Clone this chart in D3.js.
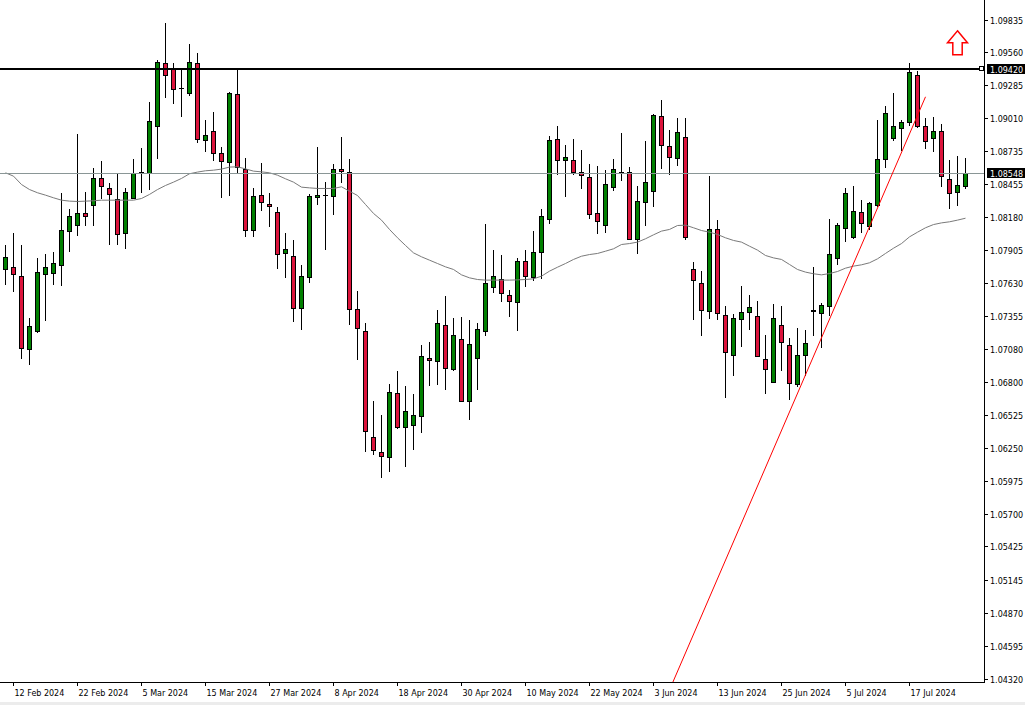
<!DOCTYPE html>
<html><head><meta charset="utf-8">
<script src="https://cdn.jsdelivr.net/npm/d3@7"></script>
<style>html,body{margin:0;padding:0;background:#fff;}svg{display:block;}</style>
</head><body>
<svg id="chart" width="1025" height="705"></svg>
<script>
// ---------------- DATA ----------------
const dates = [
"2024-02-09","2024-02-12","2024-02-13","2024-02-14","2024-02-15","2024-02-16","2024-02-19","2024-02-20","2024-02-21","2024-02-22",
"2024-02-23","2024-02-26","2024-02-27","2024-02-28","2024-02-29","2024-03-01","2024-03-04","2024-03-05","2024-03-06","2024-03-07",
"2024-03-08","2024-03-11","2024-03-12","2024-03-13","2024-03-14","2024-03-15","2024-03-18","2024-03-19","2024-03-20","2024-03-21",
"2024-03-22","2024-03-25","2024-03-26","2024-03-27","2024-03-28","2024-03-29","2024-04-01","2024-04-02","2024-04-03","2024-04-04",
"2024-04-05","2024-04-08","2024-04-09","2024-04-10","2024-04-11","2024-04-12","2024-04-15","2024-04-16","2024-04-17","2024-04-18",
"2024-04-19","2024-04-22","2024-04-23","2024-04-24","2024-04-25","2024-04-26","2024-04-29","2024-04-30","2024-05-01","2024-05-02",
"2024-05-03","2024-05-06","2024-05-07","2024-05-08","2024-05-09","2024-05-10","2024-05-13","2024-05-14","2024-05-15","2024-05-16",
"2024-05-17","2024-05-20","2024-05-21","2024-05-22","2024-05-23","2024-05-24","2024-05-27","2024-05-28","2024-05-29","2024-05-30",
"2024-05-31","2024-06-03","2024-06-04","2024-06-05","2024-06-06","2024-06-07","2024-06-10","2024-06-11","2024-06-12","2024-06-13",
"2024-06-14","2024-06-17","2024-06-18","2024-06-19","2024-06-20","2024-06-21","2024-06-24","2024-06-25","2024-06-26","2024-06-27",
"2024-06-28","2024-07-01","2024-07-02","2024-07-03","2024-07-04","2024-07-05","2024-07-08","2024-07-09","2024-07-10","2024-07-11",
"2024-07-12","2024-07-15","2024-07-16","2024-07-17","2024-07-18","2024-07-19","2024-07-22","2024-07-23","2024-07-24","2024-07-25",
"2024-07-26"];

const open = [
1.07748,1.07760,1.07690,1.07076,1.07227,1.07704,1.07715,1.07779,1.08066,1.08114,
1.08217,1.08281,1.08510,1.08426,1.08334,1.08050,1.08343,1.08552,1.08552,1.08943,
1.09473,1.09417,1.09262,1.09222,1.09473,1.08828,1.08903,1.08719,1.08644,1.09213,
1.08580,1.08075,1.08368,1.08292,1.08226,1.07882,1.07857,1.07422,1.07681,1.08351,
1.08366,1.08359,1.08585,1.08560,1.07414,1.07229,1.06345,1.06217,1.06175,1.06711,
1.06426,1.06443,1.06518,1.07003,1.06978,1.07280,1.06911,1.07163,1.06644,1.07003,
1.07229,1.07598,1.07665,1.07531,1.07472,1.07815,1.07681,1.07891,1.08167,1.08837,
1.08661,1.08661,1.08560,1.08518,1.08217,1.08117,1.08435,1.08562,1.08560,1.07997,
1.08309,1.08401,1.09029,1.08778,1.08677,1.08853,1.07748,1.07631,1.07397,1.08083,
1.07363,1.07029,1.07330,1.07389,1.07355,1.06995,1.06803,1.07280,1.07112,1.06786,
1.07029,1.07394,1.07380,1.07439,1.07840,1.08092,1.08013,1.08226,1.08108,1.08284,
1.08669,1.08845,1.08929,1.08979,1.09372,1.08945,1.08845,1.08903,1.08502,1.08393,
1.08443];

const high = [
1.07952,1.08050,1.07952,1.07338,1.07843,1.07874,1.07891,1.08387,1.08245,1.08878,
1.08393,1.08594,1.08655,1.08468,1.08552,1.08426,1.08664,1.08756,1.09146,1.09492,
1.09807,1.09473,1.09417,1.09634,1.09551,1.08998,1.09065,1.08764,1.09225,1.09422,
1.08677,1.08421,1.08636,1.08385,1.08267,1.08050,1.07986,1.07782,1.08371,1.08764,
1.08477,1.08622,1.08850,1.08664,1.07567,1.07291,1.06646,1.06529,1.06786,1.06897,
1.06772,1.06705,1.07107,1.07140,1.07400,1.07525,1.07333,1.07347,1.07322,1.07299,
1.08125,1.07902,1.07866,1.07575,1.07840,1.07902,1.08069,1.08251,1.08864,1.08945,
1.08781,1.08839,1.08747,1.08627,1.08608,1.08577,1.08669,1.08887,1.08602,1.08443,
1.08820,1.09040,1.09160,1.08912,1.09012,1.09012,1.07807,1.07732,1.08524,1.08161,
1.07439,1.07372,1.07606,1.07531,1.07481,1.07196,1.07455,1.07439,1.07171,1.07255,
1.07238,1.07760,1.07464,1.08167,1.08133,1.08426,1.08443,1.08326,1.08304,1.08996,
1.09113,1.09222,1.08998,1.09473,1.09406,1.09012,1.09021,1.08962,1.08661,1.08694,
1.08677];

const low = [
1.07609,1.07553,1.06990,1.06942,1.07213,1.07310,1.07609,1.07603,1.07888,1.08022,
1.08111,1.08111,1.08329,1.07952,1.07944,1.07916,1.08334,1.08387,1.08412,1.08664,
1.09174,1.09132,1.09018,1.09194,1.08803,1.08725,1.08650,1.08340,1.08357,1.08552,
1.08013,1.08013,1.08231,1.08097,1.07748,1.07673,1.07302,1.07235,1.07631,1.08281,
1.07905,1.08198,1.08465,1.07277,1.06984,1.06214,1.06189,1.05999,1.06050,1.06409,
1.06091,1.06231,1.06373,1.06766,1.06778,1.06733,1.06892,1.06640,1.06482,1.06733,
1.07185,1.07545,1.07469,1.07344,1.07227,1.07598,1.07648,1.07665,1.08125,1.08532,
1.08348,1.08532,1.08415,1.08164,1.08039,1.08050,1.08398,1.08482,1.07988,1.07874,
1.08106,1.08265,1.08583,1.08532,1.08608,1.07988,1.07319,1.07185,1.07327,1.07319,
1.06666,1.06850,1.07093,1.07235,1.07012,1.06699,1.06800,1.06892,1.06649,1.06761,
1.06850,1.07185,1.07084,1.07355,1.07782,1.07974,1.08000,1.08050,1.08075,1.08267,
1.08591,1.08820,1.08736,1.08945,1.08929,1.08753,1.08728,1.08435,1.08251,1.08276,
1.08415];

const close = [
1.07849,1.07704,1.07087,1.07271,1.07723,1.07765,1.07799,1.08075,1.08192,1.08217,
1.08189,1.08510,1.08440,1.08376,1.08039,1.08393,1.08552,1.08556,1.08987,1.09481,
1.09369,1.09255,1.09259,1.09481,1.08837,1.08870,1.08719,1.08650,1.09222,1.08602,
1.08075,1.08359,1.08309,1.08276,1.07874,1.07916,1.07422,1.07690,1.08359,1.08368,
1.08368,1.08585,1.08566,1.07414,1.07255,1.06390,1.06233,1.06183,1.06719,1.06426,
1.06560,1.06526,1.07020,1.06987,1.07296,1.06920,1.07196,1.06644,1.07121,1.07246,
1.07631,1.07690,1.07548,1.07481,1.07815,1.07690,1.07891,1.08192,1.08828,1.08661,
1.08686,1.08560,1.08535,1.08209,1.08150,1.08460,1.08585,1.08558,1.07997,1.08318,
1.08477,1.09037,1.08786,1.08686,1.08895,1.08013,1.07656,1.07405,1.08083,1.07380,
1.07054,1.07338,1.07389,1.07430,1.07020,1.06911,1.07338,1.07137,1.06794,1.07029,
1.07129,1.07400,1.07447,1.07874,1.08117,1.08385,1.08234,1.08133,1.08301,1.08669,
1.09054,1.08945,1.08979,1.09397,1.08945,1.08820,1.08903,1.08527,1.08385,1.08452,
1.08548];

const movingAverage = [
1.08552,1.08524,1.08454,1.08412,1.08385,1.08365,1.08343,1.08323,1.08315,1.08312,
1.08315,1.08318,1.08323,1.08323,1.08323,1.08323,1.08323,1.08337,1.08371,1.08412,
1.08446,1.08474,1.08505,1.08544,1.08558,1.08569,1.08574,1.08583,1.08600,1.08602,
1.08585,1.08566,1.08560,1.08552,1.08532,1.08502,1.08474,1.08432,1.08426,1.08421,
1.08421,1.08421,1.08435,1.08398,1.08362,1.08287,1.08212,1.08156,1.08078,1.08008,
1.07944,1.07882,1.07849,1.07821,1.07793,1.07765,1.07743,1.07698,1.07673,1.07659,
1.07654,1.07654,1.07654,1.07654,1.07656,1.07659,1.07665,1.07687,1.07729,1.07762,
1.07793,1.07827,1.07854,1.07868,1.07877,1.07896,1.07916,1.07952,1.07960,1.07972,
1.08000,1.08033,1.08064,1.08078,1.08111,1.08114,1.08092,1.08069,1.08055,1.08036,
1.08008,1.07986,1.07972,1.07938,1.07905,1.07860,1.07840,1.07827,1.07785,1.07743,
1.07721,1.07707,1.07698,1.07709,1.07726,1.07754,1.07771,1.07782,1.07799,1.07832,
1.07877,1.07921,1.07960,1.08016,1.08055,1.08092,1.08119,1.08133,1.08142,1.08156,
1.08172];

const priceTicks = [1.09835,1.09560,1.09285,1.09010,1.08735,1.08455,1.08180,1.07905,1.07630,1.07355,
1.07080,1.06800,1.06525,1.06250,1.05975,1.05700,1.05425,1.05145,1.04870,1.04595,1.04320];

const dateTicks = ["2024-02-12","2024-02-22","2024-03-05","2024-03-15","2024-03-27","2024-04-08",
"2024-04-18","2024-04-30","2024-05-10","2024-05-22","2024-06-03","2024-06-13","2024-06-25",
"2024-07-05","2024-07-17"];

const resistanceLevel = 1.09420;
const lastPrice = 1.08548;
const trendDates = ["2024-06-05","2024-07-19"];
const trendPrices = [1.04224, 1.09188];
const arrowDate = "2024-07-25";
const arrowPrice = 1.09740;

// ---------------- CHART ----------------
const W = 1025, H = 705;
const plotRight = 984, plotBottom = 682;
const svg = d3.select("#chart");
const FONT = "'DejaVu Sans', Tahoma, sans-serif";

const idx = new Map(dates.map((d, i) => [d, i]));
const x = d3.scaleLinear().domain([0, dates.length - 1]).range([5.5, 965.5]);
const y = d3.scaleLinear().domain([1.04320, 1.09835]).range([678.5, 19.5]);
const xd = d => x(idx.get(d));
const parse = d3.timeParse("%Y-%m-%d");
const fmtDate = d3.timeFormat("%-d %b %Y");
const fmtPrice = d3.format(".5f");

svg.append("rect").attr("width", W).attr("height", H).attr("fill", "#fff");

svg.append("defs").append("clipPath").attr("id", "plotClip")
  .append("rect").attr("x", 0).attr("y", 0).attr("width", plotRight).attr("height", plotBottom);

const plot = svg.append("g").attr("clip-path", "url(#plotClip)");

const candles = dates.map((d, i) => ({i, o: open[i], h: high[i], l: low[i], c: close[i]}));

// wicks
plot.append("g").selectAll("line").data(candles).join("line")
  .attr("x1", d => x(d.i)).attr("x2", d => x(d.i))
  .attr("y1", d => Math.round(y(d.h))).attr("y2", d => Math.round(y(d.l)))
  .attr("stroke", "#000").attr("stroke-width", 1);

// bodies
const bodyG = plot.append("g");
candles.forEach(d => {
  const yt = Math.round(y(Math.max(d.o, d.c))) + 0.5;
  const yb = Math.round(y(Math.min(d.o, d.c))) + 0.5;
  if (yb - yt < 1) {
    bodyG.append("line").attr("x1", x(d.i) - 2.5).attr("x2", x(d.i) + 2.5)
      .attr("y1", yt).attr("y2", yt).attr("stroke", "#000").attr("stroke-width", 1);
  } else {
    bodyG.append("rect").attr("x", x(d.i) - 2).attr("width", 4)
      .attr("y", yt).attr("height", yb - yt)
      .attr("fill", d.c >= d.o ? "#008000" : "#dc143c")
      .attr("stroke", "#000").attr("stroke-width", 1);
  }
});

// moving average
plot.append("path").datum(movingAverage)
  .attr("d", d3.line().x((v, i) => x(i)).y(v => y(v)))
  .attr("fill", "none").attr("stroke", "#7a7a7a").attr("stroke-width", 1);

// last price line
plot.append("line").attr("x1", 0).attr("x2", plotRight)
  .attr("y1", Math.round(y(lastPrice)) + 0.5).attr("y2", Math.round(y(lastPrice)) + 0.5)
  .attr("stroke", "#8a9696").attr("stroke-width", 1);

// resistance line
const ry = Math.round(y(resistanceLevel));
plot.append("line").attr("x1", 0).attr("x2", plotRight)
  .attr("y1", ry).attr("y2", ry)
  .attr("stroke", "#000").attr("stroke-width", 2);

// trend line
plot.append("line")
  .attr("x1", xd(trendDates[0])).attr("y1", y(trendPrices[0]))
  .attr("x2", xd(trendDates[1])).attr("y2", y(trendPrices[1]))
  .attr("stroke", "#ff0000").attr("stroke-width", 1);

// arrow
const ax = xd(arrowDate), ay = y(arrowPrice);
svg.append("path")
  .attr("d", `M${ax},${ay} L${ax + 10},${ay + 12} L${ax + 4.7},${ay + 12} L${ax + 4.7},${ay + 24} L${ax - 4.7},${ay + 24} L${ax - 4.7},${ay + 12} L${ax - 10},${ay + 12} Z`)
  .attr("fill", "#fff").attr("stroke", "#ff0000").attr("stroke-width", 1.5);

// resistance end marker
svg.append("rect").attr("x", plotRight - 4.5).attr("y", ry - 2.5).attr("width", 4).attr("height", 4)
  .attr("fill", "#fff").attr("stroke", "#000").attr("stroke-width", 1);

// axes frame
svg.append("line").attr("x1", plotRight + 0.5).attr("x2", plotRight + 0.5).attr("y1", 0).attr("y2", plotBottom + 1)
  .attr("stroke", "#000").attr("stroke-width", 1);
svg.append("line").attr("x1", 0).attr("x2", plotRight + 1).attr("y1", plotBottom + 0.5).attr("y2", plotBottom + 0.5)
  .attr("stroke", "#000").attr("stroke-width", 1);

// right axis ticks & labels
const yAxis = svg.append("g");
priceTicks.forEach(v => {
  const py = Math.round(y(v)) + 0.5;
  yAxis.append("line").attr("x1", plotRight + 1).attr("x2", plotRight + 4)
    .attr("y1", py).attr("y2", py).attr("stroke", "#000");
  yAxis.append("text").attr("x", 990).attr("y", py + 3)
    .attr("font-family", FONT).attr("font-size", "8px").attr("fill", "#000")
    .text(fmtPrice(v));
});

// price boxes
[resistanceLevel, lastPrice].forEach(v => {
  const py = Math.round(y(v));
  svg.append("rect").attr("x", 987).attr("y", py - 5).attr("width", 38).attr("height", 10).attr("fill", "#000");
  svg.append("text").attr("x", 990).attr("y", py + 3.5)
    .attr("font-family", FONT).attr("font-size", "8px").attr("fill", "#fff")
    .text(fmtPrice(v));
});

// bottom axis ticks & labels
const xAxis = svg.append("g");
dateTicks.forEach(d => {
  const px = xd(d);
  xAxis.append("line").attr("x1", px).attr("x2", px).attr("y1", plotBottom + 1).attr("y2", plotBottom + 4)
    .attr("stroke", "#000");
  xAxis.append("text").attr("x", px + 1).attr("y", 695.5)
    .attr("font-family", FONT).attr("font-size", "8px").attr("fill", "#000")
    .text(fmtDate(parse(d)));
});

svg.append("rect").attr("x", 0).attr("y", 702).attr("width", W).attr("height", 3).attr("fill", "#ececec");
</script>
</body></html>
